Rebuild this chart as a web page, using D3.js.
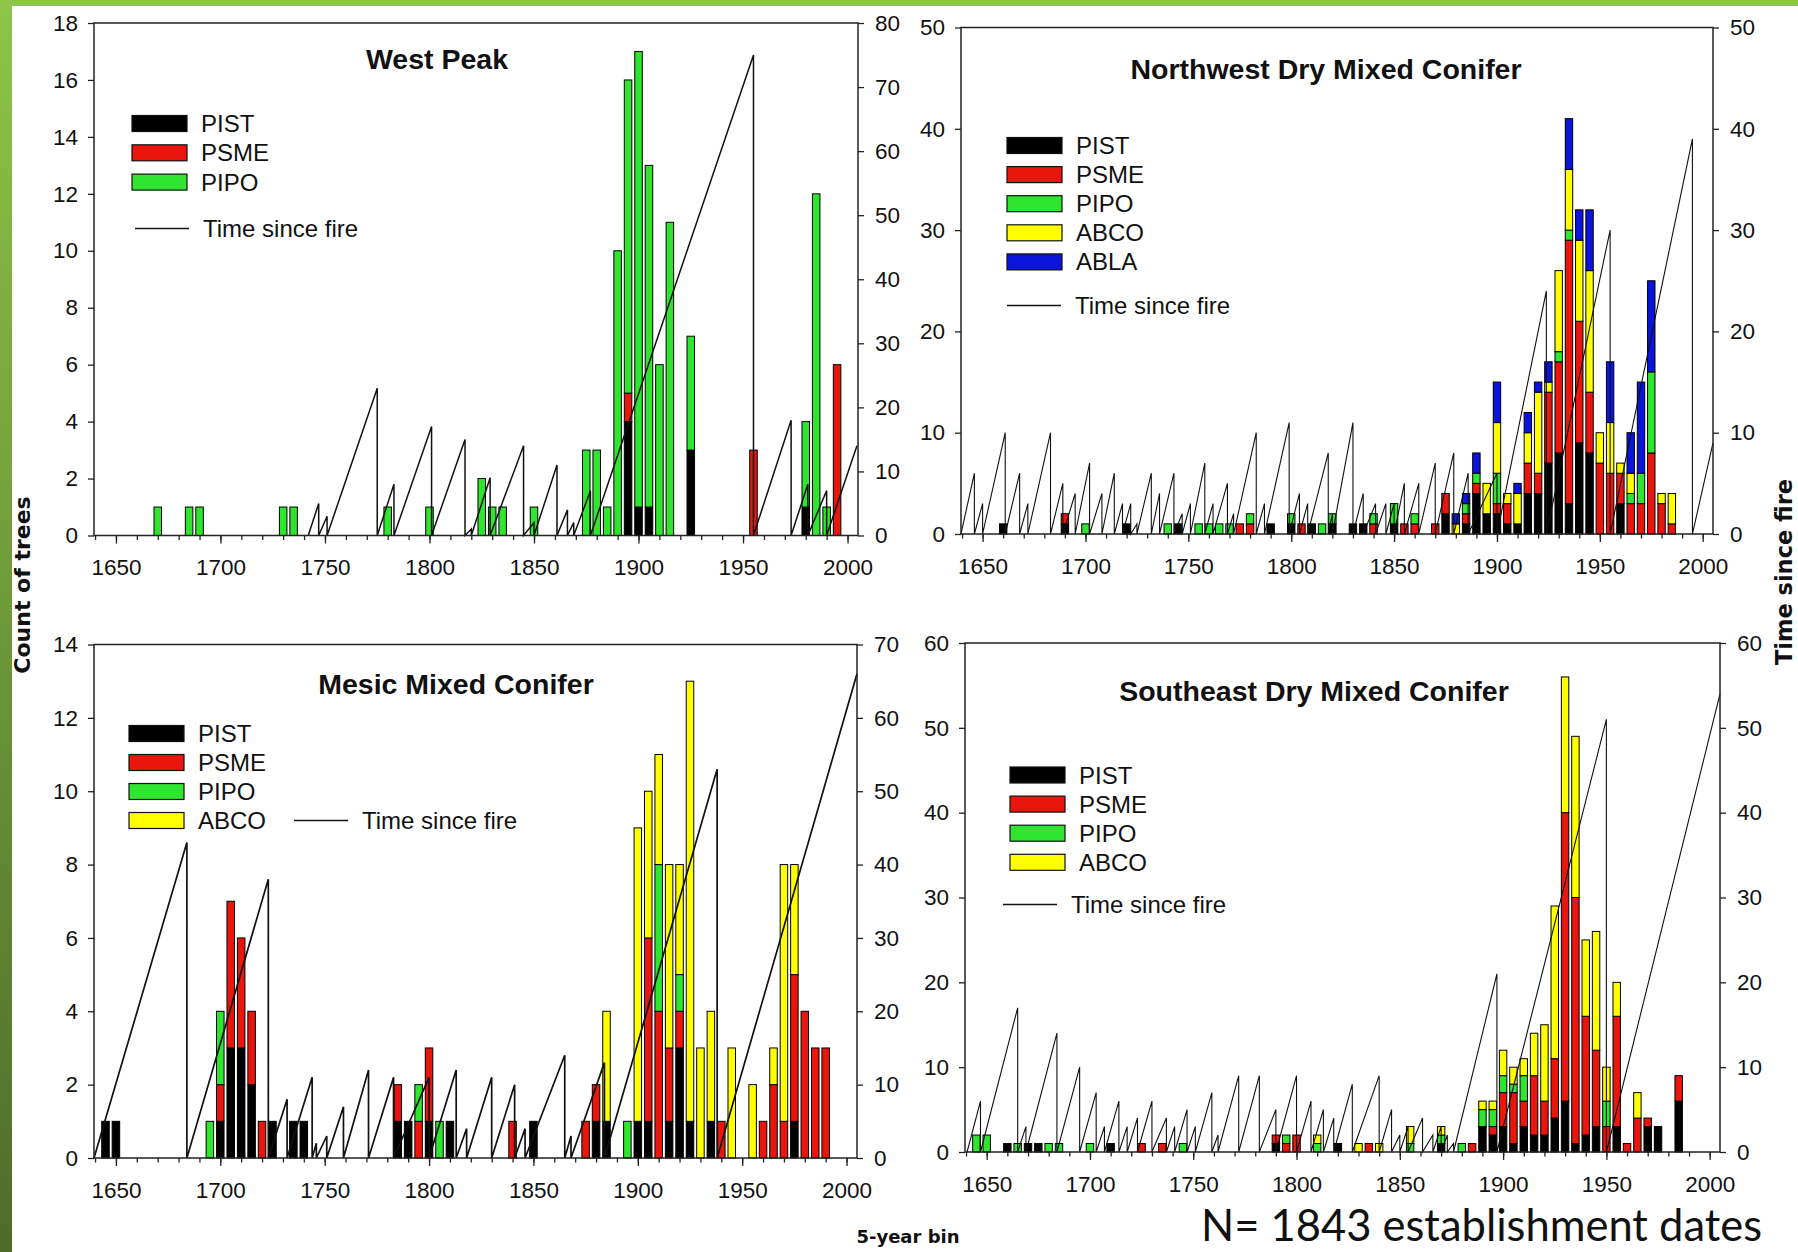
<!DOCTYPE html>
<html>
<head>
<meta charset="utf-8">
<script src="https://cdn.jsdelivr.net/npm/d3@7"></script>
<style>
    body { margin: 0; background: #fff; }
    svg { display: block; font-family: "Liberation Sans", Arial, sans-serif; }
    text { fill: #111; }
</style>
</head>
<body>
<svg id="chart" width="1798" height="1252"></svg>
<script>
// shared axis values
let xTicks = [1650, 1700, 1750, 1800, 1850, 1900, 1950, 2000]
let xMinorTicks = [1640, 1650, 1660, 1670, 1680, 1690, 1700, 1710, 1720, 1730, 1740, 1750, 1760, 1770, 1780, 1790,
    1800, 1810, 1820, 1830, 1840, 1850, 1860, 1870, 1880, 1890, 1900, 1910, 1920, 1930, 1940, 1950, 1960, 1970,
    1980, 1990, 2000]
let speciesColor = { PIST: "#000000", PSME: "#e8160d", PIPO: "#2fe52f", ABCO: "#ffff00", ABLA: "#0a14dc" }

// West Peak
let wpYears = [1670, 1685, 1690, 1730, 1735, 1780, 1800, 1825, 1830, 1835, 1850, 1875, 1880, 1885, 1890, 1895,
    1900, 1905, 1910, 1915, 1925, 1955, 1980, 1985, 1990, 1995]
let wpPIST = [0, 0, 0, 0, 0, 0, 0, 0, 0, 0, 0, 0, 0, 0, 0, 4, 1, 1, 0, 0, 3, 0, 1, 0, 0, 0]
let wpPSME = [0, 0, 0, 0, 0, 0, 0, 0, 0, 0, 0, 0, 0, 0, 0, 1, 0, 0, 0, 0, 0, 3, 0, 0, 0, 6]
let wpPIPO = [1, 1, 1, 1, 1, 1, 1, 2, 1, 1, 1, 3, 3, 1, 10, 11, 16, 12, 6, 11, 4, 0, 3, 12, 1, 0]
let wpFireYears = [1742, 1747, 1751, 1775, 1783, 1801, 1817, 1820, 1829, 1845, 1850, 1861, 1866, 1869, 1877,
    1955, 1973, 1981, 1990, 2004.5]
let wpSinceFire = [0, 5, 3, 23, 8, 17, 15, 1, 9, 14, 2, 11, 4, 2, 7, 75, 18, 8, 7, 14]
let wpCountTicks = [0, 2, 4, 6, 8, 10, 12, 14, 16, 18]
let wpFireTicks = [0, 10, 20, 30, 40, 50, 60, 70, 80]

// Northwest Dry Mixed Conifer
let nwYears = [1660, 1690, 1700, 1720, 1740, 1745, 1755, 1760, 1765, 1770,
    1775, 1780, 1790, 1800, 1805, 1810, 1815, 1820, 1830, 1835,
    1840, 1850, 1855, 1860, 1870, 1875, 1880, 1885, 1890, 1895,
    1900, 1905, 1910, 1915, 1920, 1925, 1930, 1935, 1940, 1945,
    1950, 1955, 1960, 1965, 1970, 1975, 1980, 1985]
let nwPIST = [1, 1, 0, 1, 0, 1, 0, 0, 0, 0, 0, 0, 1, 1, 0, 1, 0, 1, 1, 1,
    0, 1, 0, 0, 0, 2, 0, 1, 4, 2, 2, 1, 1, 4, 4, 7, 8, 3, 9, 8, 0, 0, 3, 0, 0, 0, 0, 0]
let nwPSME = [0, 1, 0, 0, 0, 0, 0, 0, 0, 0, 1, 1, 0, 0, 1, 0, 0, 0, 0, 0,
    1, 0, 1, 1, 1, 2, 0, 1, 1, 0, 1, 2, 0, 3, 2, 7, 9, 26, 12, 6, 7, 6, 3, 3, 3, 8, 3, 1]
let nwPIPO = [0, 0, 1, 0, 1, 0, 1, 1, 1, 1, 0, 1, 0, 1, 0, 0, 1, 1, 0, 0,
    1, 2, 0, 1, 0, 0, 0, 1, 1, 0, 3, 0, 0, 0, 0, 0, 1, 1, 0, 0, 0, 0, 0, 1, 3, 8, 0, 0]
let nwABCO = [0, 0, 0, 0, 0, 0, 0, 0, 0, 0, 0, 0, 0, 0, 0, 0, 0, 0, 0, 0,
    0, 0, 0, 0, 0, 0, 1, 0, 0, 3, 5, 1, 3, 3, 8, 1, 8, 6, 8, 12, 3, 5, 1, 2, 0, 0, 1, 3]
let nwABLA = [0, 0, 0, 0, 0, 0, 0, 0, 0, 0, 0, 0, 0, 0, 0, 0, 0, 0, 0, 0,
    0, 0, 0, 0, 0, 0, 1, 1, 2, 0, 4, 0, 1, 2, 1, 2, 0, 5, 3, 6, 0, 6, 0, 4, 9, 9, 0, 0]
let nwFireYears = [1639.5, 1646, 1650, 1661, 1668, 1672, 1683, 1689, 1695, 1702, 1708, 1714, 1718, 1722, 1725,
    1732, 1736, 1743, 1747, 1751, 1758, 1762, 1769, 1772, 1783, 1787, 1799, 1804, 1808, 1818, 1820, 1830,
    1835, 1841, 1846, 1850, 1855, 1862, 1870, 1879, 1886, 1900, 1924, 1955, 1995, 2005]
let nwSinceFire = [0, 6, 3, 10, 6, 3, 10, 5, 4, 7, 4, 6, 3, 3, 1,
    6, 4, 6, 2, 3, 7, 3, 5, 2, 10, 3, 11, 4, 3, 8, 2, 11,
    4, 3, 3, 3, 5, 5, 7, 8, 6, 6, 24, 30, 39, 9]
let nwCountTicks = [0, 10, 20, 30, 40, 50]
let nwFireTicks = [0, 10, 20, 30, 40, 50]

// Mesic Mixed Conifer
let mcYears = [1645, 1650, 1695, 1700, 1705, 1710, 1715, 1720, 1725, 1735,
    1740, 1785, 1790, 1795, 1800, 1805, 1810, 1840, 1850, 1875,
    1880, 1885, 1895, 1900, 1905, 1910, 1915, 1920, 1925, 1930,
    1935, 1940, 1945, 1955, 1960, 1965, 1970, 1975, 1980, 1985, 1990]
let mcPIST = [1, 1, 0, 1, 3, 3, 2, 0, 1, 1, 1, 1, 1, 0, 1, 0, 1, 0, 1, 0,
    1, 1, 0, 1, 1, 0, 1, 3, 1, 0, 1, 0, 0, 0, 0, 0, 0, 1, 0, 0, 0]
let mcPSME = [0, 0, 0, 1, 4, 3, 2, 1, 0, 0, 0, 1, 0, 1, 2, 0, 0, 1, 0, 1,
    1, 0, 0, 0, 5, 4, 2, 1, 0, 0, 0, 1, 0, 0, 1, 2, 1, 4, 4, 3, 3]
let mcPIPO = [0, 0, 1, 2, 0, 0, 0, 0, 0, 0, 0, 0, 0, 1, 0, 1, 0, 0, 0, 0,
    0, 0, 1, 0, 0, 4, 0, 1, 0, 0, 0, 0, 0, 0, 0, 0, 0, 0, 0, 0, 0]
let mcABCO = [0, 0, 0, 0, 0, 0, 0, 0, 0, 0, 0, 0, 0, 0, 0, 0, 0, 0, 0, 0,
    0, 3, 0, 8, 4, 3, 5, 3, 12, 3, 3, 0, 3, 2, 0, 1, 7, 3, 0, 0, 0]
let mcFireYears = [1639.5, 1684, 1723, 1732, 1744, 1746, 1751, 1759, 1771, 1783, 1800, 1813, 1818, 1830, 1841,
    1846, 1865, 1868, 1884, 1938, 2005]
let mcSinceFire = [0, 43, 38, 8, 11, 2, 3, 7, 12, 11, 11, 12, 4, 11, 10, 4, 14, 3, 13, 53, 66]
let mcCountTicks = [0, 2, 4, 6, 8, 10, 12, 14]
let mcFireTicks = [0, 10, 20, 30, 40, 50, 60, 70]

// Southeast Dry Mixed Conifer
let seYears = [1645, 1650, 1660, 1665, 1670, 1675, 1680, 1685, 1700, 1710,
    1725, 1735, 1745, 1790, 1795, 1800, 1810, 1820, 1830, 1835,
    1840, 1855, 1870, 1880, 1885, 1890, 1895, 1900, 1905, 1910,
    1915, 1920, 1925, 1930, 1935, 1940, 1945, 1950, 1955, 1960,
    1965, 1970, 1975, 1985]
let sePIST = [0, 0, 1, 0, 1, 1, 0, 0, 0, 1, 0, 0, 0, 1, 0, 0, 0, 1, 0, 0,
    0, 0, 1, 0, 0, 3, 2, 3, 1, 3, 2, 2, 4, 6, 1, 2, 3, 0, 3, 0, 0, 3, 3, 6]
let sePSME = [0, 0, 0, 0, 0, 0, 0, 0, 0, 0, 1, 1, 0, 1, 1, 2, 0, 0, 0, 1,
    0, 0, 0, 0, 1, 0, 1, 4, 6, 3, 7, 4, 7, 34, 29, 14, 9, 3, 13, 1, 4, 1, 0, 3]
let sePIPO = [2, 2, 0, 1, 0, 0, 1, 1, 1, 0, 0, 0, 1, 0, 1, 0, 1, 0, 0, 0,
    0, 1, 1, 1, 0, 2, 2, 2, 1, 3, 0, 0, 0, 0, 0, 0, 0, 3, 0, 0, 0, 0, 0, 0]
let seABCO = [0, 0, 0, 0, 0, 0, 0, 0, 0, 0, 0, 0, 0, 0, 0, 0, 1, 0, 1, 0,
    1, 2, 1, 0, 0, 1, 1, 3, 2, 2, 5, 9, 18, 16, 19, 9, 14, 4, 4, 0, 3, 0, 0, 0]
let seFireYears = [1640.5, 1647, 1665, 1669, 1684, 1695, 1703, 1707, 1714, 1718, 1723, 1730, 1737, 1741, 1747,
    1751, 1759, 1762, 1772, 1782, 1790, 1800, 1807, 1813, 1818, 1827, 1840, 1846, 1850, 1854, 1861, 1866,
    1870, 1873, 1876, 1897, 1950, 2005]
let seSinceFire = [0, 6, 17, 3, 14, 10, 7, 3, 6, 3, 4, 6, 4, 3, 5,
    3, 7, 2, 9, 9, 5, 9, 6, 5, 4, 8, 9, 5, 2, 3, 4, 2,
    3, 2, 1, 21, 51, 54]
let seCountTicks = [0, 10, 20, 30, 40, 50, 60]
let seFireTicks = [0, 10, 20, 30, 40, 50, 60]

let svg = d3.select("#chart")
let xDomain = [1639.5, 2005]
let barHalf = 1.8

// green slide frame
let grad = svg.append("defs").append("linearGradient")
    .attr("id", "sideGreen").attr("x1", 0).attr("y1", 0).attr("x2", 0).attr("y2", 1)
grad.append("stop").attr("offset", "0%").attr("stop-color", "#8cc548")
grad.append("stop").attr("offset", "100%").attr("stop-color", "#4f6b2a")
svg.append("rect").attr("x", 0).attr("y", 0).attr("width", 1798).attr("height", 6).attr("fill", "#8cc548")
svg.append("rect").attr("x", 0).attr("y", 0).attr("width", 12).attr("height", 1252).attr("fill", "url(#sideGreen)")

function drawPanel(p) {
    let x = d3.scaleLinear().domain(xDomain).range([p.x0, p.x1])
    let y = d3.scaleLinear().domain([0, p.countTicks[p.countTicks.length - 1]]).range([p.y1, p.y0])
    let y2 = d3.scaleLinear().domain([0, p.fireTicks[p.fireTicks.length - 1]]).range([p.y1, p.y0])
    let g = svg.append("g")

    // stacked bars
    let rows = p.years.map(function (yr, i) {
        let r = { year: yr }
        p.keys.forEach(function (k) { r[k] = p.counts[k][i] })
        return r
    })
    let stacked = d3.stack().keys(p.keys)(rows)
    g.append("g")
        .selectAll("g")
        .data(stacked)
        .enter()
        .append("g")
        .attr("fill", function (d) { return speciesColor[d.key] })
        .selectAll("rect")
        .data(function (d) { return d.filter(function (s) { return s[1] > s[0] }) })
        .enter()
        .append("rect")
        .attr("x", function (d) { return x(d.data.year - barHalf) })
        .attr("width", function (d) { return x(d.data.year + barHalf) - x(d.data.year - barHalf) })
        .attr("y", function (d) { return y(d[1]) })
        .attr("height", function (d) { return y(d[0]) - y(d[1]) })
        .attr("stroke", "#000")
        .attr("stroke-width", 1)

    // time since fire sawtooth
    let pts = [[p.fires[0], p.tsf[0]]]
    for (let i = 1; i < p.fires.length; i++) {
        pts.push([p.fires[i], p.tsf[i]])
        if (i < p.fires.length - 1) pts.push([p.fires[i], 0])
    }
    g.append("path")
        .datum(pts)
        .attr("fill", "none")
        .attr("stroke", "#111")
        .attr("stroke-width", p.lineWidth)
        .attr("d", d3.line().x(function (d) { return x(d[0]) }).y(function (d) { return y2(d[1]) }))

    // axes
    g.append("g")
        .attr("transform", "translate(0," + p.y1 + ")")
        .call(d3.axisBottom(x).tickValues(xMinorTicks).tickSize(4.5).tickSizeOuter(0).tickFormat(""))
    let bx = g.append("g")
        .attr("transform", "translate(0," + p.y1 + ")")
        .call(d3.axisBottom(x).tickValues(xTicks).tickSize(8).tickSizeOuter(0).tickPadding(16).tickFormat(d3.format("d")))
    let ly = g.append("g")
        .attr("transform", "translate(" + p.x0 + ",0)")
        .call(d3.axisLeft(y).tickValues(p.countTicks).tickSize(6).tickSizeOuter(0).tickPadding(10))
    let ry = g.append("g")
        .attr("transform", "translate(" + p.x1 + ",0)")
        .call(d3.axisRight(y2).tickValues(p.fireTicks).tickSize(6).tickSizeOuter(0).tickPadding(11))
    ;[bx, ly, ry].forEach(function (a) {
        a.attr("font-family", null).attr("font-size", null)
        a.selectAll("text").style("font-size", "22.5px").attr("fill", "#1a1a1a")
    })
    g.selectAll(".tick line").attr("stroke", "#222").attr("stroke-width", 1.3)
    g.selectAll(".domain").attr("stroke", "none")

    g.append("rect")
        .attr("x", p.x0).attr("y", p.y0)
        .attr("width", p.x1 - p.x0).attr("height", p.y1 - p.y0)
        .attr("fill", "none").attr("stroke", "#222").attr("stroke-width", 1.5)

    // title
    g.append("text")
        .attr("x", p.titleX).attr("y", p.titleY)
        .attr("text-anchor", "middle")
        .style("font-size", "28.5px").style("font-weight", "bold")
        .text(p.title)

    // legend
    let leg = g.append("g")
    p.keys.forEach(function (k, i) {
        let cy = p.legY + i * p.legStep
        leg.append("rect")
            .attr("x", p.legX).attr("y", cy - 8)
            .attr("width", 55).attr("height", 16)
            .attr("fill", speciesColor[k]).attr("stroke", "#111").attr("stroke-width", 1.2)
        leg.append("text")
            .attr("x", p.legX + 69).attr("y", cy + 8.5)
            .style("font-size", "24px")
            .text(k)
    })
    leg.append("line")
        .attr("x1", p.tsfLegX).attr("x2", p.tsfLegX + 54)
        .attr("y1", p.tsfLegY).attr("y2", p.tsfLegY)
        .attr("stroke", "#111").attr("stroke-width", 1.4)
    leg.append("text")
        .attr("x", p.tsfLegX + 68).attr("y", p.tsfLegY + 8.5)
        .style("font-size", "24px")
        .text("Time since fire")
}

drawPanel({
    x0: 94, x1: 858, y0: 23, y1: 535.5,
    title: "West Peak", titleX: 437, titleY: 68.5,
    keys: ["PIST", "PSME", "PIPO"],
    years: wpYears, counts: { PIST: wpPIST, PSME: wpPSME, PIPO: wpPIPO },
    fires: wpFireYears, tsf: wpSinceFire,
    countTicks: wpCountTicks, fireTicks: wpFireTicks,
    lineWidth: 1.5,
    legX: 132, legY: 123.5, legStep: 29.3, tsfLegX: 135, tsfLegY: 228.5
})

drawPanel({
    x0: 961, x1: 1713, y0: 27.5, y1: 534,
    title: "Northwest Dry Mixed Conifer", titleX: 1326, titleY: 78.5,
    keys: ["PIST", "PSME", "PIPO", "ABCO", "ABLA"],
    years: nwYears, counts: { PIST: nwPIST, PSME: nwPSME, PIPO: nwPIPO, ABCO: nwABCO, ABLA: nwABLA },
    fires: nwFireYears, tsf: nwSinceFire,
    countTicks: nwCountTicks, fireTicks: nwFireTicks,
    lineWidth: 1.1,
    legX: 1007, legY: 145.5, legStep: 29.1, tsfLegX: 1007, tsfLegY: 305.5
})

drawPanel({
    x0: 94, x1: 857, y0: 644.5, y1: 1158,
    title: "Mesic Mixed Conifer", titleX: 456, titleY: 693.5,
    keys: ["PIST", "PSME", "PIPO", "ABCO"],
    years: mcYears, counts: { PIST: mcPIST, PSME: mcPSME, PIPO: mcPIPO, ABCO: mcABCO },
    fires: mcFireYears, tsf: mcSinceFire,
    countTicks: mcCountTicks, fireTicks: mcFireTicks,
    lineWidth: 1.7,
    legX: 129, legY: 733.5, legStep: 29, tsfLegX: 294, tsfLegY: 820.5
})

drawPanel({
    x0: 965, x1: 1720, y0: 643, y1: 1152,
    title: "Southeast Dry Mixed Conifer", titleX: 1314, titleY: 700.5,
    keys: ["PIST", "PSME", "PIPO", "ABCO"],
    years: seYears, counts: { PIST: sePIST, PSME: sePSME, PIPO: sePIPO, ABCO: seABCO },
    fires: seFireYears, tsf: seSinceFire,
    countTicks: seCountTicks, fireTicks: seFireTicks,
    lineWidth: 1.1,
    legX: 1010, legY: 775, legStep: 29.1, tsfLegX: 1003, tsfLegY: 904.5
})

// shared axis titles
svg.append("text")
    .attr("transform", "translate(22,585) rotate(-90)")
    .attr("text-anchor", "middle").attr("dominant-baseline", "central")
    .style("font-family", "'DejaVu Sans', sans-serif").style("font-weight", "bold").style("font-size", "22px")
    .text("Count of trees")
svg.append("text")
    .attr("transform", "translate(1784,572) rotate(-90)")
    .attr("text-anchor", "middle").attr("dominant-baseline", "central")
    .style("font-family", "'DejaVu Sans', sans-serif").style("font-weight", "bold").style("font-size", "22.5px")
    .text("Time since fire")
svg.append("text")
    .attr("x", 908).attr("y", 1243)
    .attr("text-anchor", "middle")
    .style("font-family", "'DejaVu Sans', sans-serif").style("font-weight", "bold").style("font-size", "18px")
    .text("5-year bin")
svg.append("text")
    .attr("x", 1201).attr("y", 1241)
    .style("font-family", "Lato, sans-serif").style("font-size", "44px")
    .attr("textLength", 561).attr("lengthAdjust", "spacingAndGlyphs")
    .text("N= 1843 establishment dates")
</script>
</body>
</html>
